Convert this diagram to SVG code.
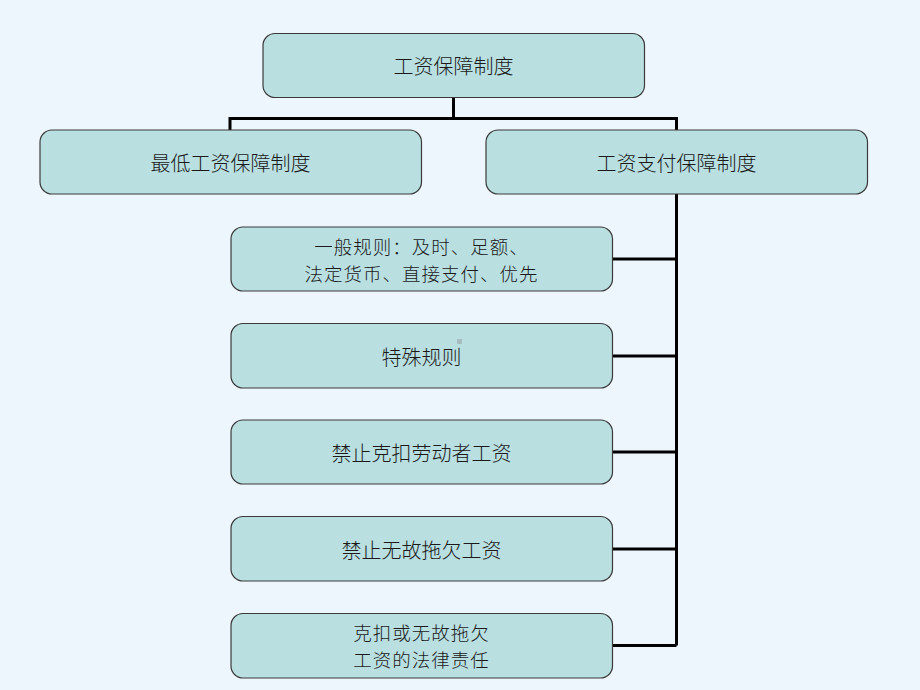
<svg xmlns="http://www.w3.org/2000/svg" width="920" height="690" viewBox="0 0 920 690">
<style>
.n rect{fill:#b9dfe1;stroke:#3a3a3a;stroke-width:1.2}
.n text{font-family:"Noto Sans CJK SC","Noto Sans",sans-serif;font-size:20px;font-weight:300;fill:#1a1a1a;text-anchor:middle;dominant-baseline:central}
.n text.t2{font-size:18.5px;letter-spacing:1px}
.c{fill:none;stroke:#000;stroke-width:3}
</style>
<rect width="920" height="690" fill="#eef6fd"/>
<g id="connectors">
<path class="c" d="M453.5,98 V118.5 M230,130 V118.5 H676.5 V130"/>
<path class="c" d="M676.5,194 V645.5 M612.5,259 H676.5 M612.5,356 H676.5 M612.5,452 H676.5 M612.5,549 H676.5 M612.5,645.5 H676.5"/>
</g>
<g id="n0" class="n"><rect x="263" y="33.5" width="381.5" height="64" rx="12"/><text x="453.5" y="65.5">工资保障制度</text></g>
<g id="n1" class="n"><rect x="40" y="130" width="381.5" height="64" rx="12"/><text x="230.5" y="162">最低工资保障制度</text></g>
<g id="n2" class="n"><rect x="486" y="130" width="381.5" height="64" rx="12"/><text x="676.5" y="162">工资支付保障制度</text></g>
<g id="n3" class="n"><rect x="231" y="227" width="381.5" height="64" rx="12"/><text class="t2" x="421.5" y="245.5">一般规则：及时、足额、</text><text class="t2" x="421.5" y="272.5">法定货币、直接支付、优先</text></g>
<g id="n4" class="n"><rect x="231" y="323.5" width="381.5" height="64.5" rx="12"/><text x="421.5" y="356">特殊规则</text></g>
<rect x="457" y="339" width="5" height="5" fill="#a9bcc0"/>
<g id="n5" class="n"><rect x="231" y="420" width="381.5" height="64" rx="12"/><text x="421.5" y="452">禁止克扣劳动者工资</text></g>
<g id="n6" class="n"><rect x="231" y="516.5" width="381.5" height="64.5" rx="12"/><text x="421.5" y="549">禁止无故拖欠工资</text></g>
<g id="n7" class="n"><rect x="231" y="613.5" width="381.5" height="64.5" rx="12"/><text class="t2" x="421.5" y="632">克扣或无故拖欠</text><text class="t2" x="421.5" y="659">工资的法律责任</text></g>
</svg>
